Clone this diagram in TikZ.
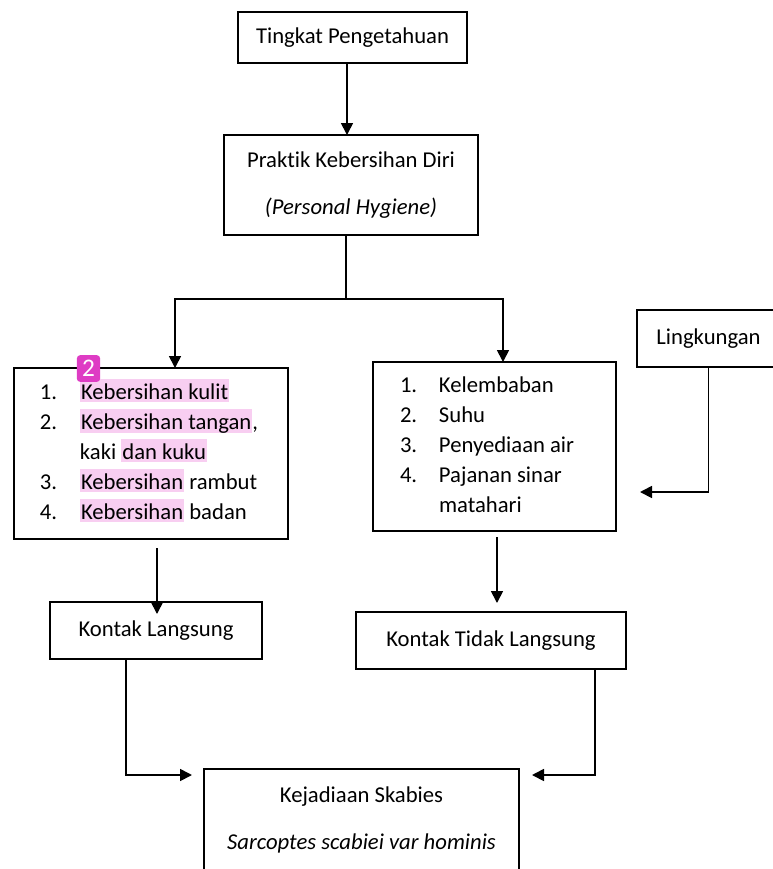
\documentclass[tikz,border=0pt]{standalone}
\usepackage{fontspec}
\setmainfont{Carlito}[Ligatures=NoCommon]
\usepackage{tikz}
\usetikzlibrary{arrows.meta}
\definecolor{HlPink}{RGB}{248,206,241}
\definecolor{BadgePink}{RGB}{222,60,196}
\newcommand{\hlt}[1]{{\setlength{\fboxsep}{0pt}\colorbox{HlPink}{\rule[-1.5pt]{0pt}{17.25pt}\hspace{0.8pt}#1\hspace{0.8pt}}}}
\newcommand{\normspace}{\spaceskip=0pt\xspaceskip=0pt\relax}

\begin{document}
\begin{tikzpicture}[x=0.75pt,y=-0.75pt]
  \tikzset{BoxStyle/.style = {
    shape         = rectangle,
    draw          = black,
    fill          = white,
    line width    = 1.1pt,
    text          = black,
    inner sep     = 0pt,
    outer sep     = 0pt,
    font          = \fontsize{17}{22.5}\selectfont
    }
  }
  \tikzset{ListStyle/.style = {
    BoxStyle,
    align         = left
    }
  }
  \tikzset{EdgeStyle/.style = {
    draw          = black,
    line width    = 1.3pt
    }
  }
  \tikzset{ArrowStyle/.style = {
    EdgeStyle,
    -{Triangle[length=9pt,width=9pt]}
    }
  }
  \useasboundingbox (0,0) rectangle (773,869);
  \clip (0,0) rectangle (773,869);

	\node[BoxStyle, minimum width=171.75pt, minimum height=38.25pt](A1) at (352.5, 37.5) {Tingkat Pengetahuan};
	\node[BoxStyle, minimum width=190.5pt, minimum height=75pt, align=center,
	  font=\fontsize{17}{35.25}\selectfont](B1) at (351, 185) {\normspace Praktik Kebersihan Diri\\ \textit{(Personal Hygiene)}};
	\node[ListStyle, minimum width=205.5pt, minimum height=128.25pt, text width=166.5pt](C1) at (151, 453.5) {\normspace
	  \begin{tabular}{@{}p{30pt}@{}l@{}}
	  1. & \hlt{Kebersihan kulit}\\
	  2. & \hlt{Kebersihan tangan},\\
	     & kaki \hlt{dan kuku}\\
	  3. & \hlt{Kebersihan} rambut\\
	  4. & \hlt{Kebersihan} badan
	  \end{tabular}};
	\node[ListStyle, minimum width=182.25pt, minimum height=126.75pt, text width=141.75pt](C2) at (494.5, 446.5) {\normspace
	  \begin{tabular}{@{}p{29.25pt}@{}l@{}}
	  1. & Kelembaban\\
	  2. & Suhu\\
	  3. & Penyediaan air\\
	  4. & Pajanan sinar\\
	     & matahari
	  \end{tabular}};
	\node[BoxStyle, minimum width=107.25pt, minimum height=42.75pt](C3) at (708.5, 338.5) {\raisebox{2.5pt}{Lingkungan}};
	\node[BoxStyle, minimum width=159pt, minimum height=42.75pt](D1) at (156, 630.5) {\raisebox{1.5pt}{Kontak Langsung}};
	\node[BoxStyle, minimum width=202.5pt, minimum height=42.75pt](D2) at (491, 640.5) {\raisebox{2pt}{Kontak Tidak Langsung}};
	\node[BoxStyle, minimum width=236.25pt, minimum height=76.5pt, align=center,
	  font=\fontsize{17}{35.25}\selectfont](E1) at (361.5, 820) {\normspace Kejadiaan Skabies\\ \textit{Sarcoptes scabiei var hominis}};
	\node[fill=BadgePink, rounded corners=2.5pt, minimum width=17.5pt, minimum height=20pt, inner sep=0pt,
	  text=white, font=\fontsize{19}{19}\selectfont](N1) at (88.5, 368.5) {2};

	\coordinate (S1) at (346, 299);
	\coordinate (C3end) at (640, 492);
	\draw[ArrowStyle]([xshift=-4.125pt]A1.south) to ([xshift=-3pt]B1.north);
	\draw[EdgeStyle]([xshift=-3.75pt]B1.south) to (S1);
	\draw[ArrowStyle](S1) -| ([xshift=18pt]C1.north);
	\draw[ArrowStyle](S1) -| ([xshift=6.375pt]C2.north);
	\draw[ArrowStyle](C3.south) |- (C3end);
	\draw[ArrowStyle]([xshift=4.5pt,yshift=-6.75pt]C1.south) to ([xshift=0.75pt,yshift=-9pt]D1.north);
	\draw[ArrowStyle]([xshift=1.875pt,yshift=-4.5pt]C2.south) to ([xshift=4.5pt,yshift=6.75pt]D2.north);
	\draw[ArrowStyle]([xshift=-22.5pt]D1.south) |- ([xshift=-9pt,yshift=-4.5pt]E1.north west);
	\draw[ArrowStyle]([xshift=78pt]D2.south) |- ([xshift=9.75pt,yshift=-4.5pt]E1.north east);

  \end{tikzpicture}
\end{document}
